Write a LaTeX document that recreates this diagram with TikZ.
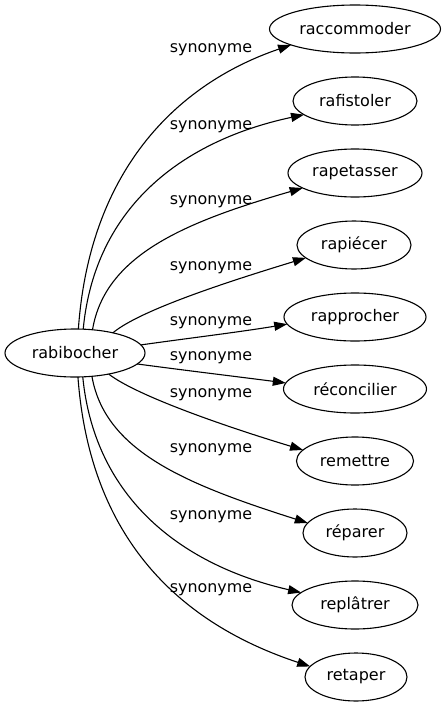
\documentclass[tikz,border=0pt]{standalone}
\usepackage{fontspec}
\setmainfont{DejaVu Sans}
\usetikzlibrary{shapes.geometric,arrows.meta}
\begin{document}
\begin{tikzpicture}[x=1pt,y=-1pt,
  term/.style={draw, ellipse, line width=1.1pt, minimum height=48pt, inner sep=0pt, outer sep=0pt, font=\fontsize{16}{19}\selectfont},
  lbl/.style={inner sep=0pt, font=\fontsize{15.9}{19}\selectfont},
  link/.style={line width=1.1pt, -{Triangle[length=13pt,width=9pt]}}]
\path[fill=white, use as bounding box] (0,0) rectangle (446,707);
\node[term, minimum width=140pt] (rab) at (75,353) {rabibocher};
\node[term, minimum width=171pt] (racc) at (355,29) {raccommoder};
\node[term, minimum width=124pt] (rafist) at (355,101) {rafistoler};
\node[term, minimum width=134pt] (rapet) at (355,173) {rapetasser};
\node[term, minimum width=114pt] (rapie) at (354,245) {rapiécer};
\node[term, minimum width=142pt] (rappro) at (355,317) {rapprocher};
\node[term, minimum width=143pt] (recon) at (355,389) {réconcilier};
\node[term, minimum width=117pt] (remet) at (355,461) {remettre};
\node[term, minimum width=104pt] (repar) at (355,533) {réparer};
\node[term, minimum width=126pt] (replat) at (355,605) {replâtrer};
\node[term, minimum width=102pt] (retap) at (356,677) {retaper};

\draw[link] (rab.82.9) .. controls (90,165) and (182,82) .. (racc.194.1);
\draw[link] (rab.71.4) .. controls (95,205) and (185,140) .. (rafist.195.5);
\draw[link] (rab.53.9) .. controls (105,255) and (185,222) .. (rapet.196);
\draw[link] (rab.28.9) .. controls (140,310) and (230,281) .. (rapie.195.2);
\draw[link] (rab.7.8) .. controls (190,338) and (240,332) .. (rappro.186.8);
\draw[link] (rab.350.5) .. controls (190,371) and (240,377) .. (recon.175);
\draw[link] (rab.328.3) .. controls (137,396) and (227,427) .. (remet.168);
\draw[link] (rab.306.1) .. controls (105,451) and (185,484) .. (repar.168);
\draw[link] (rab.288.6) .. controls (95,501) and (185,566) .. (replat.167.6);
\draw[link] (rab.277.1) .. controls (90,541) and (182,624) .. (retap.167.8);

\node[lbl] (l1) at (211,50) {synonyme};
\node[lbl] (l2) at (211,126.5) {synonyme};
\node[lbl] (l3) at (211,201.5) {synonyme};
\node[lbl] (l4) at (211,268) {synonyme};
\node[lbl] (l5) at (211,322.5) {synonyme};
\node[lbl] (l6) at (211,358) {synonyme};
\node[lbl] (l7) at (211,395) {synonyme};
\node[lbl] (l8) at (211,450) {synonyme};
\node[lbl] (l9) at (211,517) {synonyme};
\node[lbl] (l10) at (211,590) {synonyme};
\end{tikzpicture}
\end{document}
